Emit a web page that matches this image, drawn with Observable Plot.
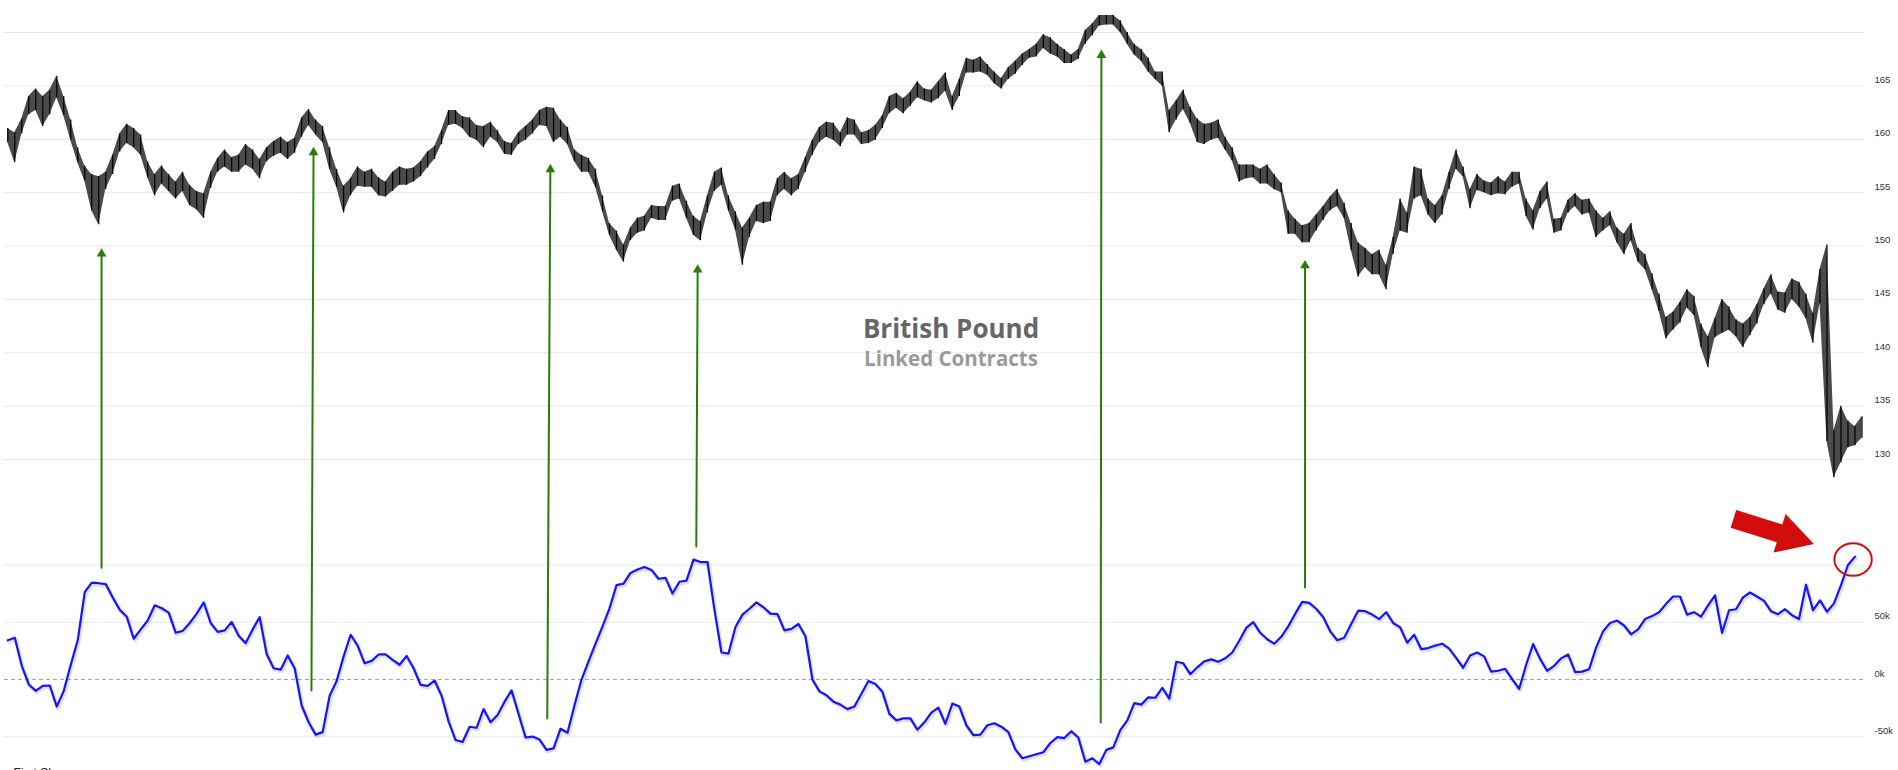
<!DOCTYPE html>
<html><head><meta charset="utf-8">
<script src="https://cdn.jsdelivr.net/npm/d3@7"></script>
<script src="https://cdn.jsdelivr.net/npm/@observablehq/plot@0.6"></script>
<style>html,body{margin:0;padding:0;background:#fff;overflow:hidden}#chart svg{display:block}</style>
</head><body><div id="chart"></div>
<script>
// Weekly price range (British Pound futures, linked contracts), weeks 0..265
const priceHigh = [
 161.0,160.6,161.9,164.0,164.7,164.0,164.6,165.9,164.0,161.8,
 159.2,157.5,156.7,156.5,156.9,158.5,160.5,161.4,161.0,160.4,
 157.9,156.7,157.5,156.7,156.0,156.9,155.7,155.1,154.9,156.9,
 158.2,159.0,158.3,158.5,159.5,159.0,158.1,159.2,159.8,160.2,
 159.7,160.1,162.0,162.8,161.8,161.2,159.2,157.2,155.6,156.3,
 157.4,156.9,157.2,156.4,156.0,156.9,157.4,157.2,157.3,157.9,
 158.8,159.3,160.8,162.7,162.7,162.1,162.0,161.3,161.2,161.6,
 160.8,159.8,159.6,160.6,161.2,161.8,162.7,163.0,162.9,161.8,
 161.1,159.0,158.5,158.2,157.2,154.7,152.1,151.4,150.1,151.7,
 152.6,152.8,153.8,153.7,153.7,155.6,155.8,154.2,152.8,152.3,
 154.7,156.9,157.3,154.7,153.2,151.7,152.6,153.8,154.1,154.1,
 156.3,156.9,156.3,156.7,158.3,159.9,161.1,161.6,161.5,160.6,
 162.0,161.8,160.6,160.8,161.3,162.2,164.0,164.3,163.8,164.4,
 165.4,164.7,164.6,165.4,166.2,164.0,165.6,167.6,167.4,167.7,
 167.0,166.3,165.7,166.7,167.3,168.0,168.4,168.9,169.8,169.5,
 168.9,168.4,167.9,168.4,170.2,170.8,171.6,171.6,171.6,171.1,
 170.0,168.9,168.4,167.6,166.3,166.3,162.7,163.6,164.6,163.0,
 161.9,161.4,161.5,161.8,160.2,159.2,157.6,157.6,157.6,157.2,
 157.6,156.7,155.9,153.3,152.5,151.9,152.1,152.9,153.7,154.6,
 155.3,154.0,152.1,150.3,149.8,149.2,149.6,148.2,150.8,154.4,
 153.1,157.4,157.2,154.4,153.8,154.7,156.9,159.0,157.4,155.3,
 156.7,156.1,155.9,156.5,156.0,156.9,156.9,154.4,153.3,155.1,
 156.0,152.5,152.6,154.3,154.9,154.3,154.4,153.3,152.6,153.2,
 151.7,151.1,152.1,149.8,149.2,147.4,145.5,143.3,143.8,144.7,
 145.9,145.3,142.7,141.5,143.2,145.0,144.3,143.1,142.7,143.3,
 144.5,146.0,147.3,145.7,145.6,146.9,146.6,145.5,143.7,147.8,
 150.1,132.7,135.0,133.6,133.1,134.0];
const priceLow = [
 159.7,157.8,160.5,162.3,162.7,161.2,162.3,163.9,162.2,159.9,
 157.8,156.1,153.3,152.0,155.3,156.7,158.8,159.6,159.2,158.5,
 156.4,154.7,155.8,155.1,154.4,155.1,153.8,153.4,152.6,155.4,
 156.9,157.4,156.9,156.9,157.6,157.2,156.3,157.9,158.4,158.7,
 158.1,158.7,160.2,161.3,160.4,159.7,157.2,155.5,153.1,154.7,
 155.6,155.5,155.5,154.7,154.6,155.1,155.7,155.7,156.0,156.5,
 157.3,158.1,159.5,161.3,161.4,161.0,160.2,159.9,159.2,160.2,
 159.7,158.6,158.5,159.5,159.9,160.5,161.3,161.2,159.7,160.2,
 159.5,157.9,156.9,156.9,155.5,153.2,151.0,149.6,148.5,150.5,
 151.2,151.4,152.6,152.4,152.4,154.2,154.4,152.6,151.0,150.5,
 153.1,155.1,155.7,153.3,151.5,148.2,150.8,152.3,152.1,152.3,
 154.7,155.3,154.7,155.3,156.9,158.5,159.7,160.2,159.9,159.3,
 160.4,160.4,159.5,159.6,159.9,161.0,162.4,162.9,162.4,163.1,
 163.9,163.6,163.4,163.8,164.5,162.7,164.0,166.2,166.2,166.3,
 166.0,165.2,164.7,165.6,166.1,166.9,167.6,167.7,168.5,168.0,
 167.7,167.1,167.1,167.5,168.9,169.7,170.6,170.7,170.7,170.0,
 168.9,167.9,167.3,166.3,165.6,165.0,160.6,161.8,162.8,161.5,
 159.7,159.5,159.9,160.1,159.0,158.0,156.0,156.3,156.4,155.8,
 155.8,155.3,155.0,151.1,151.1,150.3,150.3,151.4,152.4,153.3,
 153.7,152.6,149.6,147.1,148.0,147.3,147.3,145.9,149.2,151.4,
 151.2,154.4,154.7,152.9,152.1,152.9,155.3,157.2,156.5,153.5,
 155.2,155.0,154.7,154.9,154.8,155.5,155.8,152.8,151.5,153.5,
 154.4,151.2,151.4,153.1,153.7,152.9,153.1,150.8,151.4,151.9,
 150.3,149.2,150.5,148.5,147.8,145.9,143.9,141.3,142.1,142.8,
 144.2,143.5,140.5,138.6,141.4,141.8,142.1,141.5,140.5,141.6,
 142.7,144.5,145.5,144.0,143.7,145.0,144.3,143.2,140.9,144.6,
 131.7,128.3,129.7,131.1,131.3,132.0];
// Weekly net position (thousands of contracts), weeks 0..264
const cotNet = [
 34.3,36.5,12.0,-4.3,-9.9,-5.6,-5.2,-23.6,-9.9,12.9,
 34.3,76.4,84.6,84.1,83.3,71.7,60.9,54.9,35.6,43.8,
 51.5,64.8,62.2,58.4,40.8,42.5,49.4,57.5,67.4,49.4,
 41.6,42.9,50.2,38.2,31.8,43.8,54.5,22.3,9.9,8.6,
 21.0,9.9,-22.7,-37.3,-48.1,-45.9,-14.2,-1.3,20.2,39.1,
 29.6,14.2,16.3,21.9,21.9,17.2,12.9,20.6,9.9,-4.7,
 -5.6,-0.9,-14.2,-36.5,-52.8,-54.5,-41.2,-42.1,-25.8,-37.3,
 -30.9,-19.3,-9.4,-30.0,-50.6,-49.8,-52.4,-61.4,-60.1,-42.9,
 -46.4,-22.3,0.0,15.9,31.3,46.4,62.2,82.4,83.7,93.1,
 96.0,98.3,95.7,88.0,88.8,75.1,85.4,86.3,104.7,102.6,
 102.6,60.9,23.6,22.7,45.9,56.7,61.8,67.4,63.1,57.5,
 57.1,42.9,44.2,48.5,37.8,0.0,-10.3,-13.7,-19.3,-21.9,
 -25.8,-23.6,-12.4,-1.3,-3.9,-10.7,-30.0,-35.6,-33.9,-33.9,
 -43.8,-37.3,-28.8,-24.5,-38.6,-21.0,-23.6,-39.9,-48.5,-48.1,
 -39.9,-38.2,-41.2,-45.9,-60.9,-68.7,-67.0,-65.2,-63.5,-55.4,
 -50.2,-51.1,-45.1,-50.6,-71.7,-68.7,-73.8,-61.4,-59.2,-44.2,
 -35.6,-20.6,-21.9,-15.5,-15.9,-7.3,-16.7,15.5,14.2,4.7,
 10.7,15.9,17.6,15.5,18.5,23.6,33.9,45.1,50.2,40.8,
 35.2,31.3,37.3,46.4,57.5,67.8,67.0,61.8,54.5,42.1,
 34.3,36.5,48.5,60.1,59.7,56.7,52.8,58.8,49.4,45.5,
 32.2,39.1,26.6,27.5,29.6,31.3,27.0,18.9,10.3,21.0,
 23.6,20.2,6.9,7.7,9.4,0.4,-8.2,12.9,30.9,18.0,
 7.7,12.0,18.5,21.9,6.4,6.9,9.0,27.9,42.1,49.4,
 51.5,47.2,39.5,43.8,52.8,55.4,58.8,66.1,72.5,72.5,
 56.7,58.8,54.9,64.8,73.4,40.8,60.5,61.4,71.7,76.0,
 72.5,68.7,59.7,57.1,61.4,56.2,52.8,82.8,60.5,69.1,
 59.2,66.5,82.4,100.0,107.3];

const priceGrid = [170,165,160,155,150,145,140,135,130];
const priceTicks = [165,160,155,150,145,140,135,130];
const cotGrid = [100,50,-50];
const cotTicks = [50,0,-50];

// annotations in data terms (week index, price or net-position value)
const greenArrows = [
 {fromWeek:13.4, fromCot:97.7, toWeek:13.4, toPrice:149.8},
 {fromWeek:43.4, fromCot:-9.6, toWeek:43.7, toPrice:159.3},
 {fromWeek:77.1, fromCot:-34.0, toWeek:77.55, toPrice:157.7},
 {fromWeek:98.4, fromCot:116.1, toWeek:98.6, toPrice:148.3},
 {fromWeek:156.2, fromCot:-37.5, toWeek:156.3, toPrice:168.4},
 {fromWeek:185.4, fromCot:80.3, toWeek:185.4, toPrice:148.7}
];
const redArrow = {tailWeek:246.7, tailCot:139.9, tipWeek:258.2, tipCot:117.8};
const redRing = {week:263.8, cot:104.4};

// lower panel shares the frame: net position mapped into the common y domain
const COT_ZERO = 109.39, COT_PER_K = 0.1073;
const cotY = v => COT_ZERO + COT_PER_K * v;

const price = priceHigh.map((h, i) => ({week: i, high: h, low: priceLow[i]}));
const cot = cotNet.map((v, i) => ({week: i, value: v}));

const GREEN = "#2a7a0c", RED = "#d30d0d";
const labelFont = {fontSize: 9.5, fill: "#333", fontFamily: "Liberation Sans, Arial, sans-serif"};

const xDomain = [-0.47, 265.36], yDomain = [100.87, 173.0];
const fx = Plot.scale({x: {domain: xDomain, range: [4, 1864]}}).apply;
const fy = Plot.scale({y: {domain: yDomain, range: [770, 0]}}).apply;

function redAnnotations(index, scales) {
  let x = scales && scales.x, y = scales && scales.y;
  if (typeof x !== "function") { x = fx; y = fy; }
  const ns = "http://www.w3.org/2000/svg";
  const g = document.createElementNS(ns, "g");
  const x0 = x(redArrow.tailWeek), y0 = y(cotY(redArrow.tailCot));
  const x1 = x(redArrow.tipWeek), y1 = y(cotY(redArrow.tipCot));
  const L = Math.hypot(x1 - x0, y1 - y0), ux = (x1 - x0) / L, uy = (y1 - y0) / L;
  const nx = -uy, ny = ux, sw = 9.3, hw = 20.2, hl = 36;
  const bx = x1 - ux * hl, by = y1 - uy * hl;
  const pts = [[x0 + nx*sw, y0 + ny*sw],[bx + nx*sw, by + ny*sw],[bx + nx*hw, by + ny*hw],[x1, y1],
               [bx - nx*hw, by - ny*hw],[bx - nx*sw, by - ny*sw],[x0 - nx*sw, y0 - ny*sw]];
  const poly = document.createElementNS(ns, "polygon");
  poly.setAttribute("points", pts.map(p => p.join(",")).join(" "));
  poly.setAttribute("fill", RED);
  g.appendChild(poly);
  const e = document.createElementNS(ns, "ellipse");
  e.setAttribute("cx", x(redRing.week)); e.setAttribute("cy", y(cotY(redRing.cot)));
  e.setAttribute("rx", 18.7); e.setAttribute("ry", 16.2);
  e.setAttribute("fill", "none"); e.setAttribute("stroke", RED); e.setAttribute("stroke-width", 2);
  g.appendChild(e);
  return g;
}

const chart = Plot.plot({
  width: 1898, height: 770,
  marginTop: 0, marginBottom: 0, marginLeft: 4, marginRight: 34,
  x: {domain: xDomain, axis: null},
  y: {domain: yDomain, axis: null},
  style: {background: "#fff", overflow: "hidden"},
  marks: [
    Plot.ruleY(priceGrid, {y: d => d, stroke: "#e8e8e8", strokeWidth: 1}),
    Plot.ruleY(cotGrid, {y: d => cotY(d), stroke: "#e8e8e8", strokeWidth: 1}),
    Plot.ruleY([0], {y: d => cotY(d), stroke: "#a0a0a0", strokeWidth: 1, strokeDasharray: "4,3"}),
    Plot.text(priceTicks, {y: d => d, text: d => String(d), frameAnchor: "right", dx: 10, dy: -3,
      textAnchor: "start", lineAnchor: "bottom", ...labelFont}),
    Plot.text(cotTicks, {y: d => cotY(d), text: d => d + "k", frameAnchor: "right", dx: 10, dy: -3,
      textAnchor: "start", lineAnchor: "bottom", ...labelFont}),
    Plot.text(["British Pound"], {text: d => d, frameAnchor: "top", dx: 16.5, dy: 337, lineAnchor: "bottom",
      fontSize: 26, fontWeight: "bold", fill: "#666", fontFamily: "Open Sans, sans-serif"}),
    Plot.text(["Linked Contracts"], {text: d => d, frameAnchor: "top", dx: 16.5, dy: 365, lineAnchor: "bottom",
      fontSize: 20.5, fontWeight: "bold", fill: "#9a9a9a", fontFamily: "Open Sans, sans-serif"}),
    Plot.areaY(price, {x: "week", y1: "low", y2: "high", fill: "#4a4a4a"}),
    Plot.ruleX(price, {x: "week", y1: "low", y2: "high", stroke: "#000", strokeWidth: 1.2}),
    Plot.line(cot, {x: "week", y: d => cotY(d.value), stroke: "#000", strokeOpacity: 0.12, strokeWidth: 4, dx: 1, dy: 1.5}),
    Plot.line(cot, {x: "week", y: d => cotY(d.value), stroke: "#1414ff", strokeWidth: 2.2}),
    Plot.arrow(greenArrows, {x1: "fromWeek", y1: d => cotY(d.fromCot), x2: "toWeek", y2: "toPrice",
      stroke: GREEN, strokeWidth: 2, headLength: 0, insetEnd: 5}),
    Plot.dot(greenArrows, {x: "toWeek", y: "toPrice", symbol: "triangle", r: 3.6, dy: 5.6, fill: GREEN, stroke: "none"}),
    redAnnotations,
    Plot.text(["First Shown"], {text: d => d, frameAnchor: "bottom-left", dx: 9, dy: 6, lineAnchor: "bottom",
      textAnchor: "start", fontSize: 12, fill: "#222", fontFamily: "Liberation Sans, Arial, sans-serif"})
  ]
});
document.getElementById("chart").appendChild(chart);
</script>
</body></html>
